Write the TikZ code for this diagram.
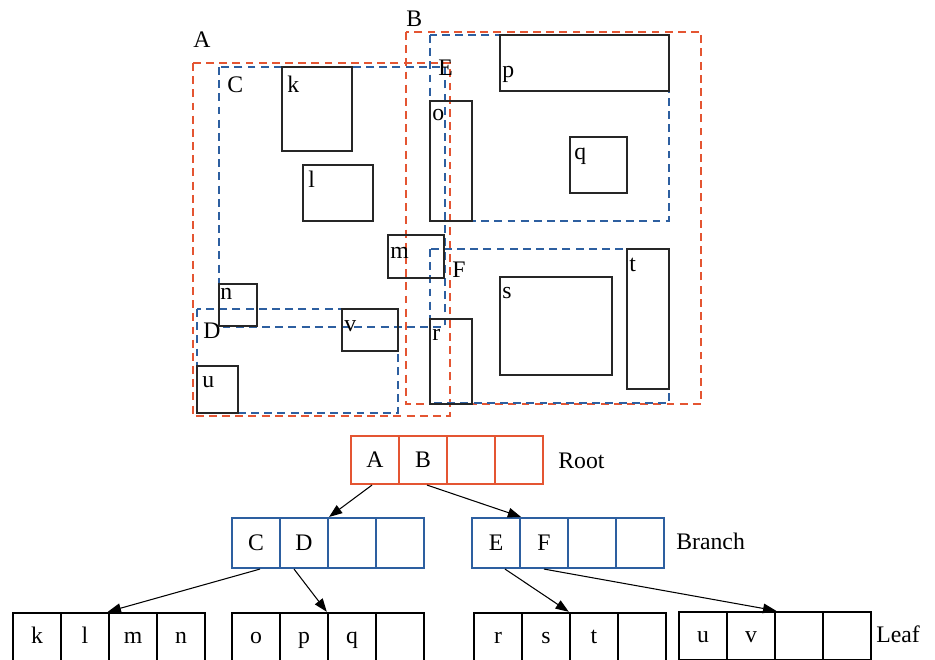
\documentclass[tikz,border=0pt]{standalone}
\usepackage{fontspec}
\setmainfont{Liberation Serif}
\usetikzlibrary{arrows.meta}

\definecolor{mbrred}{RGB}{228,85,50}
\definecolor{mbrblue}{RGB}{45,95,160}

\begin{document}
\begin{tikzpicture}[x=0.02cm, y=-0.02cm,
        font=\fontsize{13.5}{16}\selectfont,
        outerbox/.style={draw=mbrred, line width=1.4pt, dash pattern=on 4.5pt off 3pt},
        innerbox/.style={draw=mbrblue, line width=1.4pt, dash pattern=on 4.5pt off 3pt},
        objbox/.style={draw=black!85, line width=0.6pt},
        lbl/.style={anchor=base west, inner sep=0pt},
        rootcell/.style={rectangle, draw=mbrred, line width=1.2pt, minimum width=0.96cm, minimum height=0.96cm, text height=9pt, text depth=0pt},
        branchcell/.style={rectangle, draw=mbrblue, line width=1.2pt, minimum width=0.96cm, minimum height=1cm, text height=9pt, text depth=0pt},
        leafcell/.style={rectangle, draw=black, line width=1.4pt, minimum width=0.96cm, minimum height=0.96cm, text height=7pt, text depth=0pt},
        link/.style={-{Triangle[length=7.5pt, width=5.5pt]}, line width=0.6pt}
    ]
        \path[use as bounding box, clip] (0,0) rectangle (935,659);

        % Outer rectangles
        \draw[outerbox] (193,63) rectangle (450,416);
        \node[lbl] (labA) at (193,47) {A};
        \draw[outerbox] (406,32) rectangle (701,404);
        \node[lbl] (labB) at (406,27) {B};

        % Inner rectangles
        \draw[innerbox] (219,67) rectangle (445,327);
        \node[lbl] (labC) at (227,92) {C};
        \draw[innerbox] (197,309) rectangle (398,413);
        \node[lbl] (labD) at (203,338) {D};
        \draw[innerbox] (430,35) rectangle (669,221);
        \node[lbl] (labE) at (438,75) {E};
        \draw[innerbox] (430,249) rectangle (669,403);
        \node[lbl] (labF) at (452,277) {F};

        % Objects
        \draw[objbox] (282,67) rectangle (352,151);
        \node[lbl] (labk) at (287,92) {k};
        \draw[objbox] (303,165) rectangle (373,221);
        \node[lbl] (labl) at (308,187) {l};
        \draw[objbox] (388,235) rectangle (444,278);
        \node[lbl] (labm) at (390,258) {m};
        \draw[objbox] (219,284) rectangle (257,326);
        \node[lbl] (labn) at (220,299) {n};
        \draw[objbox] (342,309) rectangle (398,351);
        \node[lbl] (labv) at (344,331) {v};
        \draw[objbox] (197,366) rectangle (238,413);
        \node[lbl] (labu) at (202,387) {u};
        \draw[objbox] (430,101) rectangle (472,221);
        \node[lbl] (labo) at (432,120) {o};
        \draw[objbox] (500,35) rectangle (669,91);
        \node[lbl] (labp) at (502,77) {p};
        \draw[objbox] (570,137) rectangle (627,193);
        \node[lbl] (labq) at (574,159) {q};
        \draw[objbox] (430,319) rectangle (472,404);
        \node[lbl] (labr) at (432,340) {r};
        \draw[objbox] (500,277) rectangle (612,375);
        \node[lbl] (labs) at (502,298) {s};
        \draw[objbox] (627,249) rectangle (669,389);
        \node[lbl] (labt) at (629,271) {t};

        % Root
        \node[rootcell] (rA) at (375,460) {A};
        \node[rootcell] (rB) at (423,460) {B};
        \node[rootcell] (r3) at (471,460) {};
        \node[rootcell] (r4) at (519,460) {};
        \node[lbl] (root) at (558,468) {Root};

        % Branch
        \node[branchcell] (bC) at (256,543) {C};
        \node[branchcell] (bD) at (304,543) {D};
        \node[branchcell] (b3) at (352,543) {};
        \node[branchcell] (b4) at (400,543) {};
        \node[branchcell] (bE) at (496,543) {E};
        \node[branchcell] (bF) at (544,543) {F};
        \node[branchcell] (b7) at (592,543) {};
        \node[branchcell] (b8) at (640,543) {};
        \node[lbl] (branch) at (676,549) {Branch};

        % Leaf
        \node[leafcell] (lk) at (37,637) {k};
        \node[leafcell] (ll) at (85,637) {l};
        \node[leafcell] (lm) at (133,637) {m};
        \node[leafcell] (ln) at (181,637) {n};
        \node[leafcell] (lo) at (256,637) {o};
        \node[leafcell] (lp) at (304,637) {p};
        \node[leafcell] (lq) at (352,637) {q};
        \node[leafcell] (l8) at (400,637) {};
        \node[leafcell] (lr) at (498,637) {r};
        \node[leafcell] (ls) at (546,637) {s};
        \node[leafcell] (lt) at (594,637) {t};
        \node[leafcell] (l12) at (642,637) {};
        \node[leafcell] (lu) at (703,636) {u};
        \node[leafcell] (lv) at (751,636) {v};
        \node[leafcell] (l15) at (799,636) {};
        \node[leafcell] (l16) at (847,636) {};
        \node[lbl] (leaf) at (876,642) {Leaf};

        % Links
        \draw[link] ([xshift=-0.06cm]rA.south) -- (bD.north east);
        \draw[link] ([xshift=0.08cm]rB.south) -- (bE.north east);
        \draw[link] ([xshift=0.08cm]bC.south) -- (lm.north west);
        \draw[link] ([xshift=-0.2cm]bD.south) -- (lq.north west);
        \draw[link] ([xshift=0.18cm]bE.south) -- (lt.north west);
        \draw[link] (bF.south) -- (lv.north east);
    \end{tikzpicture}
\end{document}
